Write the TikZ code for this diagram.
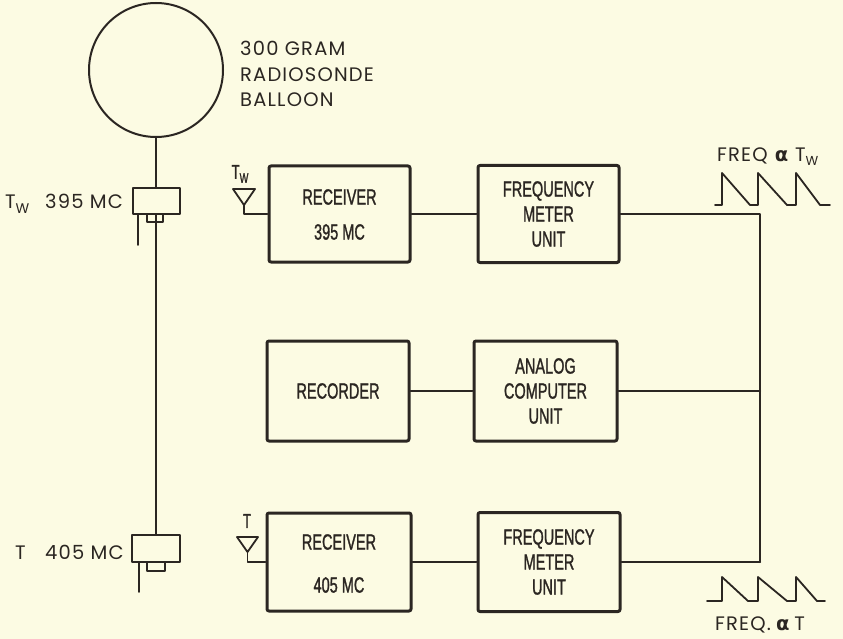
\documentclass[tikz,border=0pt]{standalone}
\usepackage{fontspec}
\setmainfont[LetterSpace=6]{Poppins}
\newfontfamily\blk[FakeStretch=0.66,FakeBold=1.2]{Liberation Sans}
\newfontfamily\grk{DejaVu Sans}
\definecolor{ink}{HTML}{2B2622}
\definecolor{paper}{HTML}{FCFBE3}
\begin{document}
\begin{tikzpicture}[x=1pt,y=-1pt, line join=round, line cap=round,
 blockbox/.style={draw=ink, line width=3pt, rounded corners=2pt, inner sep=0pt},
 wire/.style={draw=ink, line width=2pt},
 thinw/.style={draw=ink, line width=1.8pt},
 part/.style={draw=ink, line width=2pt, inner sep=0pt},
 btext/.style={font=\blk\fontsize{22}{25}\selectfont, text=ink, align=center},
 ltext/.style={font=\fontsize{19.5}{25}\selectfont, text=ink, inner sep=0pt},
 atext/.style={font=\blk\fontsize{20}{20}\selectfont, text=ink, inner sep=0pt},
]
\fill[paper] (0,0) rectangle (843,639);
\useasboundingbox (0,0) rectangle (843,639);

% balloon and transmitters
\node[part, circle, minimum size=134pt] (bal) at (156,70) {};
\node[part, minimum width=47pt, minimum height=26pt] (tx1) at (156,201) {};
\node[part, minimum width=16pt, minimum height=8pt] (sb1) at (155,218) {};
\node[part, minimum width=48pt, minimum height=27pt] (tx2) at (156,548.5) {};
\node[part, minimum width=18pt, minimum height=9pt] (sb2) at (156,566.5) {};
\coordinate (w1) at (138,245);
\coordinate (w2) at (139,592);
\draw[thinw] (bal.south) -- (tx1.north);
\draw[thinw] (tx1.south) -- (tx2.north);
\draw[thinw] (w1 |- tx1.south) -- (w1);
\draw[thinw] (w2 |- tx2.south) -- (w2);

% left labels
\node[ltext, anchor=base west] (lb1) at (240,56) {300 GRAM};
\node[ltext, anchor=base west] (lb2) at (240,82) {RADIOSONDE};
\node[ltext, anchor=base west] (lb3) at (240,107) {BALLOON};
\node[ltext, anchor=base west] (lt1t) at (5,209) {T\raisebox{-5pt}{\fontsize{14}{14}\selectfont W}};
\node[ltext, anchor=base west] (lt1) at (45,209) {395 MC};
\node[ltext, anchor=base west] (lt2t) at (15,559) {T};
\node[ltext, anchor=base west] (lt2) at (45,559) {405 MC};

% blocks
\node[blockbox, minimum width=141pt, minimum height=96pt] (rx1) at (339.5,214) {};
\node[btext] (rx1a) at (339.5,197) {RECEIVER};
\node[btext] (rx1b) at (339.5,232) {395 MC};
\node[blockbox, btext, minimum width=141pt, minimum height=97pt] (fm1) at (548.5,214) {FREQUENCY\\METER\\UNIT};
\node[blockbox, btext, minimum width=142pt, minimum height=100pt] (rec) at (338,391) {RECORDER};
\node[blockbox, btext, minimum width=143pt, minimum height=100pt] (acu) at (545.5,391) {ANALOG\\COMPUTER\\UNIT};
\node[blockbox, minimum width=144pt, minimum height=98pt] (rx2) at (339,562) {};
\node[btext] (rx2a) at (339,542) {RECEIVER};
\node[btext] (rx2b) at (339,585) {405 MC};
\node[blockbox, btext, minimum width=142pt, minimum height=99pt] (fm2) at (549,562) {FREQUENCY\\METER\\UNIT};

% connectors
\coordinate (bt) at (760,214);
\coordinate (bm) at (760,391);
\coordinate (bb) at (760,562);
\draw[wire] (rx1.east) -- (fm1.west);
\draw[wire] (rec.east) -- (acu.west);
\draw[wire] (rx2.east) -- (fm2.west);
\draw[wire] (fm1.east) -- (bt) -- (bb);
\draw[wire] (acu.east) -- (bm);
\draw[wire] (fm2.east) -- (bb);

% antennas
\coordinate (a1) at (244,205);
\draw[thinw] (233,189) -- (255,189) -- (a1) -- cycle;
\draw[thinw] (a1) |- (rx1.west);
\node[atext] (ta1) at (240,174) {T\raisebox{-4pt}{\fontsize{14}{14}\selectfont W}};
\coordinate (a2) at (247.5,552);
\draw[thinw] (237,537) -- (258,537) -- (a2) -- cycle;
\draw[thinw] (a2) |- (rx2.west);
\node[atext] (ta2) at (247,521) {T};

% waveforms
\draw[thinw] (715,205) -- (722,205) -- (722,173) -- (750,205) -- (758,205) -- (758,173)
  -- (787,205) -- (796,205) -- (796,173) -- (820,205) -- (830,205);
\node[ltext, anchor=base west] (fq1) at (717,162) {FREQ\hspace{7pt}{\grk\bfseries α}\hspace{7pt}T\raisebox{-4pt}{\fontsize{13}{13}\selectfont W}};
\draw[thinw] (707,601) -- (722,601) -- (722,577) -- (748,601) -- (758,601) -- (758,577)
  -- (787,601) -- (796,601) -- (796,577) -- (817,601) -- (825,601);
\node[ltext, anchor=base west] (fq2) at (715,630) {FREQ.\hspace{5pt}{\grk\bfseries α}\hspace{5pt}T};
\end{tikzpicture}
\end{document}
